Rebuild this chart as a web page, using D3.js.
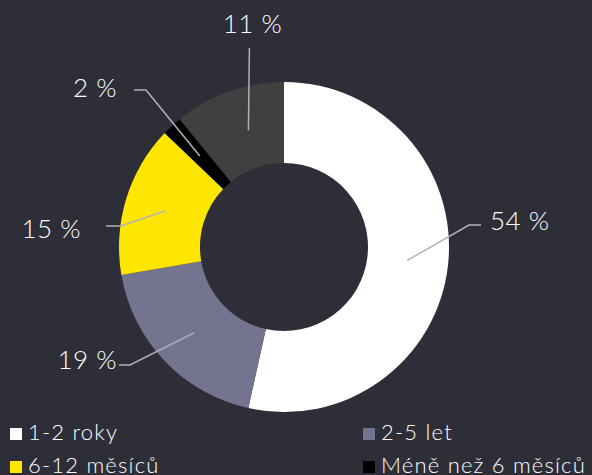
<!DOCTYPE html>
<html>
<head>
<meta charset="utf-8">
<script src="https://cdn.jsdelivr.net/npm/d3@7"></script>
<style>
  body { margin: 0; background: #2e2e38; }
  svg { display: block; font-family: Lato, "Open Sans", sans-serif; font-weight: 300; }
</style>
</head>
<body>
<script>
// data
var categories = ['1-2 roky', '2-5 let', '6-12 měsíců', 'Méně než 6 měsíců', 'Více než 5 let']
var values = [54, 19, 15, 2, 11]
var colors = ['#ffffff', '#747490', '#ffe600', '#000000', '#404040']
var legendItems = [0, 1, 2, 3]  // 5th slice has no legend entry in the picture

// label layout: elbow point relative to chart centre, horizontal tail, gap to text
var labelLayout = [
  {elbow: [185, -22], tail: 12, gap: 9, anchor: 'start', dy: 5},
  {elbow: [-154, 118], tail: -11, gap: 2, anchor: 'end', dy: 4},
  {elbow: [-163, -21], tail: -15, gap: 25, anchor: 'end', dy: 12},
  {elbow: [-138, -157], tail: -12, gap: 17, anchor: 'end', dy: 7},
  {elbow: null, top: -199, anchor: 'middle', dy: -15}
]

var width = 592
var height = 475
var cx = 284
var cy = 247
var outerR = 165
var innerR = 84
var labelR = 124

var svg = d3.select('body').append('svg')
  .attr('width', width)
  .attr('height', height)

var g = svg.append('g')
  .attr('transform', `translate(${cx}, ${cy})`)

var pie = d3.pie().sort(null).value(d => d)
var arcs = pie(values)

var arc = d3.arc().innerRadius(innerR).outerRadius(outerR)

g.selectAll('path.slice')
  .data(arcs)
  .enter()
  .append('path')
  .attr('class', 'slice')
  .attr('d', arc)
  .style('fill', (d, i) => colors[i])

// leader lines
function innerPoint (d) {
  var a = (d.startAngle + d.endAngle) / 2
  return [Math.sin(a) * labelR, -Math.cos(a) * labelR]
}

arcs.forEach(function (d, i) {
  var p = innerPoint(d)
  var L = labelLayout[i]
  var pts, tx, ty
  if (L.elbow) {
    var e = L.elbow
    pts = [p, e, [e[0] + L.tail, e[1]]]
    tx = e[0] + L.tail + (L.anchor === 'start' ? L.gap : -L.gap)
    ty = e[1] + L.dy
  } else {
    pts = [[p[0] + 6, p[1]], [p[0] + 7, L.top]]
    tx = p[0] + 10
    ty = L.top + L.dy
  }
  g.append('polyline')
    .attr('points', pts.map(q => q.join(',')).join(' '))
    .style('fill', 'none')
    .style('stroke', '#b0b0c0')
    .style('stroke-width', 1.5)
  g.append('text')
    .attr('x', tx)
    .attr('y', ty)
    .attr('text-anchor', L.anchor)
    .attr('font-size', '26px')
    .style('letter-spacing', '0.5px')
    .style('fill', '#ffffff')
    .text(values[i] + ' %')
})

// legend
var legend = svg.append('g')
var leg = legend.selectAll('g.item')
  .data(legendItems)
  .enter()
  .append('g')
  .attr('class', 'item')
  .attr('transform', (d, i) => `translate(${10 + (i % 2) * 353}, ${428 + Math.floor(i / 2) * 33})`)

leg.append('rect')
  .attr('width', 12)
  .attr('height', 12)
  .style('fill', d => colors[d])

leg.append('text')
  .attr('x', 18)
  .attr('y', 12)
  .attr('font-size', '22px')
  .style('letter-spacing', '1.2px')
  .style('fill', '#ffffff')
  .text(d => categories[d])
</script>
</body>
</html>
